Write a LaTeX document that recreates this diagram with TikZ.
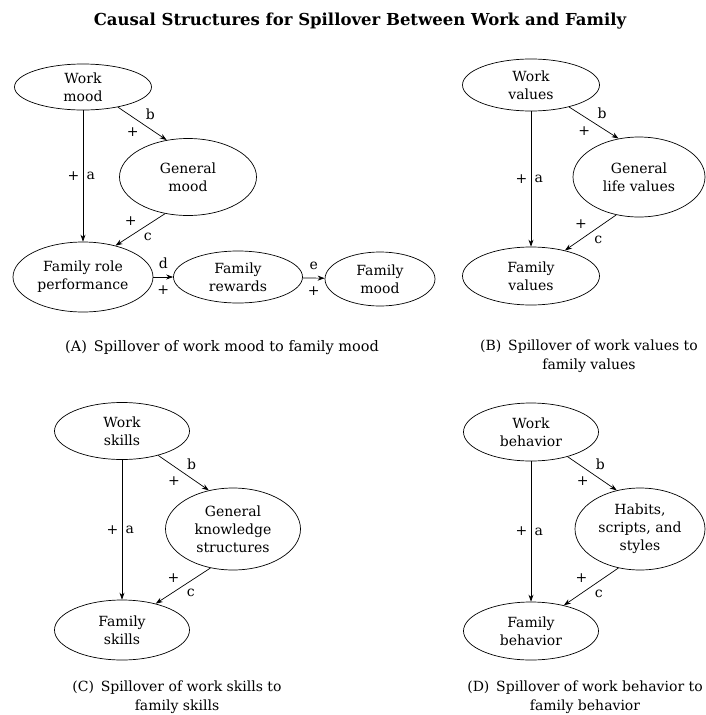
\documentclass[tikz,border=0pt]{standalone}
\usepackage{fontspec}
\setmainfont{DejaVu Serif}
\usetikzlibrary{shapes.geometric,arrows.meta}
\begin{document}
\begin{tikzpicture}[x=1pt,y=-1pt,line width=0.7pt,
        >={Stealth[length=7pt,width=5pt]},
        font=\fontsize{14}{18}\selectfont,
        ell/.style={draw,ellipse,inner sep=0pt,align=center},
        captxt/.style={align=center,font=\fontsize{14}{18.5}\selectfont}]
        \useasboundingbox (0,0) rectangle (705,715);
        \node (title) at (360,21) {\fontsize{16.5}{19}\selectfont\bfseries Causal Structures for Spillover Between Work and Family};

        \node[ell,minimum width=137pt,minimum height=46pt] (wm) at (83,87) {Work\\mood};
        \node[ell,minimum width=137pt,minimum height=77pt] (gm) at (188,177) {General\\mood};
        \node[ell,minimum width=140pt,minimum height=70pt] (frp) at (83,277) {Family role\\performance};
        \node[ell,minimum width=129pt,minimum height=52pt] (fr) at (238,277) {Family\\rewards};
        \node[ell,minimum width=110pt,minimum height=54pt] (fm) at (380,279) {Family\\mood};
        \draw[->] (wm) -- node[left]{+} node[right]{a} (frp);
        \draw[->] (wm.-30) -- node[above right]{b} node[below left]{+} (gm.120);
        \draw[->] (gm.-122) -- node[above left]{+} node[below right]{c} (frp.44);
        \draw[->] (frp) -- node[above=5pt]{d} node[below=5pt]{+} (fr);
        \draw[->] (fr) -- node[above=5pt]{e} node[below=5pt]{+} (fm);
        \node[captxt,font=\fontsize{14.5}{18.5}\selectfont] (capa) at (222,348) {(A)\, Spillover of work mood to family mood};

        \node[ell,minimum width=137pt,minimum height=52pt] (wv) at (531,85) {Work\\values};
        \node[ell,minimum width=132pt,minimum height=80pt] (glv) at (639,177) {General\\life values};
        \node[ell,minimum width=137pt,minimum height=58pt] (fv) at (531,276) {Family\\values};
        \draw[->] (wv) -- node[left]{+} node[right]{a} (fv);
        \draw[->] (wv.-30) -- node[above right]{b} node[below left]{+} (glv.118);
        \draw[->] (glv.-121) -- node[above left]{+} node[below right]{c} (fv.37);
        \node[captxt] (capb) at (589,356) {(B)\, Spillover of work values to\\family values};

        \node[ell,minimum width=135pt,minimum height=57pt] (ws) at (122,431) {Work\\skills};
        \node[ell,minimum width=135pt,minimum height=82pt] (gks) at (233,529) {General\\knowledge\\structures};
        \node[ell,minimum width=135pt,minimum height=60pt] (fs) at (122,630) {Family\\skills};
        \draw[->] (ws) -- node[left]{+} node[right]{a} (fs);
        \draw[->] (ws.-34) -- node[above right]{b} node[below left]{+} (gks.122);
        \draw[->] (gks.-120) -- node[above left]{+} node[below right]{c} (fs.38);
        \node[captxt] (capc) at (177,697) {(C)\, Spillover of work skills to\\family skills};

        \node[ell,minimum width=135pt,minimum height=58pt] (wb) at (531,432) {Work\\behavior};
        \node[ell,minimum width=130pt,minimum height=82pt] (hss) at (640,529) {Habits,\\scripts, and\\styles};
        \node[ell,minimum width=135pt,minimum height=58pt] (fb) at (531,631) {Family\\behavior};
        \draw[->] (wb) -- node[left]{+} node[right]{a} (fb);
        \draw[->] (wb.-34) -- node[above right]{b} node[below left]{+} (hss.121);
        \draw[->] (hss.-119) -- node[above left]{+} node[below right]{c} (fb.38);
        \node[captxt] (capd) at (585,697) {(D)\, Spillover of work behavior to\\family behavior};
\end{tikzpicture}
\end{document}
